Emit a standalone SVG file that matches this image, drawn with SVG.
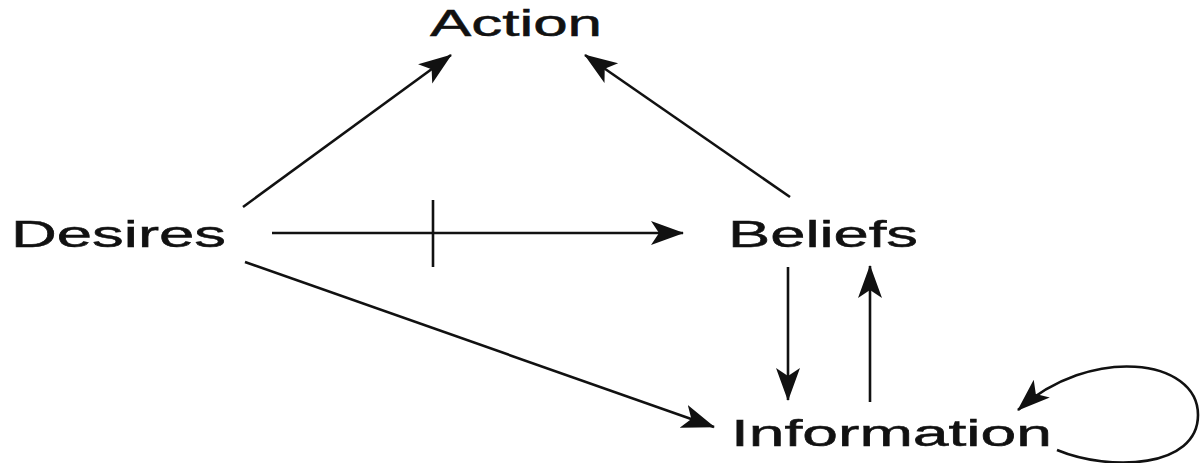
<svg xmlns="http://www.w3.org/2000/svg" width="1204" height="463" viewBox="0 0 1204 463">
<style>
.lbl{font-family:"Liberation Sans",Arial,sans-serif;font-size:37px;fill:#111;stroke:#111;stroke-width:0.5}
.c{stroke:#111;stroke-width:2.6;fill:none}
</style>
<defs>
<marker id="a" markerWidth="34" markerHeight="26" refX="32" refY="13" orient="auto" markerUnits="userSpaceOnUse" viewBox="0 0 34 26">
<path d="M0,1 L33,13 L0,25 L8,13 Z" fill="#111"/>
</marker>
</defs>
<rect width="1204" height="463" fill="#fff"/>
<g id="action"><text class="lbl" x="430" y="36" textLength="172" lengthAdjust="spacingAndGlyphs">Action</text></g>
<g id="desires"><text class="lbl" x="11" y="247" textLength="215" lengthAdjust="spacingAndGlyphs">Desires</text></g>
<g id="beliefs"><text class="lbl" x="728" y="247" textLength="190" lengthAdjust="spacingAndGlyphs">Beliefs</text></g>
<g id="information"><text class="lbl" x="731" y="446" textLength="321" lengthAdjust="spacingAndGlyphs">Information</text></g>
<g id="connectors">
<line class="c" x1="243" y1="207" x2="451" y2="55" marker-end="url(#a)"/>
<line class="c" x1="790" y1="197" x2="585" y2="55" marker-end="url(#a)"/>
<line class="c" x1="272" y1="233" x2="683" y2="233" stroke-width="2" marker-end="url(#a)"/>
<line class="c" x1="433" y1="200" x2="433" y2="267" stroke-width="2.5"/>
<line class="c" x1="245" y1="262" x2="714" y2="427" marker-end="url(#a)"/>
<line class="c" x1="788" y1="267" x2="788" y2="400" marker-end="url(#a)"/>
<line class="c" x1="870" y1="402" x2="870" y2="266" marker-end="url(#a)"/>
<path class="c" d="M1057,450 C1110,472 1198,468 1198,415 C1198,358 1090,345 1018,410" marker-end="url(#a)"/>
</g>
</svg>
